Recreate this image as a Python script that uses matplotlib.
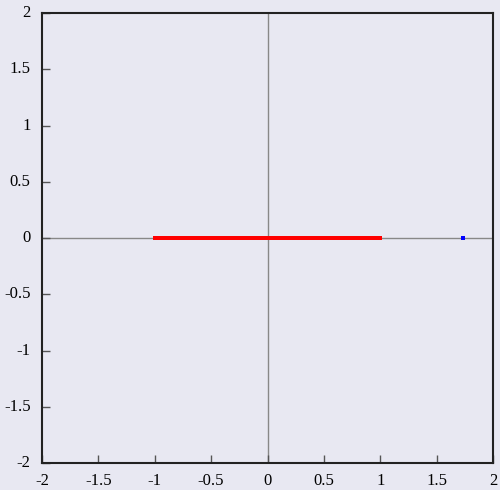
import matplotlib
matplotlib.use('Agg')
import matplotlib.pyplot as plt

serif = 'Liberation Serif'

# roots on the real axis (positive half, mirrored below)
red_pos = [1.000, 0.999, 0.997, 0.995, 0.992, 0.988, 0.983, 0.977, 0.971, 0.963,
           0.955, 0.947, 0.937, 0.927, 0.915, 0.904, 0.891, 0.878, 0.864, 0.849,
           0.833, 0.817, 0.800, 0.783, 0.765, 0.746, 0.727, 0.707, 0.687, 0.665,
           0.644, 0.622, 0.599, 0.576, 0.553, 0.528, 0.504, 0.479, 0.454, 0.428,
           0.402, 0.376, 0.349, 0.323, 0.295, 0.268, 0.240, 0.213, 0.185, 0.156,
           0.128, 0.100, 0.071, 0.043, 0.014]
blue_pos = [1.000, 0.998, 0.996, 0.994, 0.990, 0.986, 0.980, 0.974, 0.967, 0.959,
            0.951, 0.942, 0.932, 0.921, 0.910, 0.898, 0.885, 0.871, 0.857, 0.841,
            0.825, 0.809, 0.792, 0.774, 0.756, 0.737, 0.717, 0.697, 0.676, 0.655,
            0.633, 0.611, 0.588, 0.565, 0.541, 0.516, 0.492, 0.467, 0.441, 0.415,
            0.389, 0.363, 0.336, 0.309, 0.282, 0.254, 0.227, 0.199, 0.171, 0.142,
            0.114, 0.086, 0.057, 0.029, 0.000]
blue_extra = [1.732]

red_x = red_pos + [-v for v in red_pos]
blue_x = blue_pos + [-v for v in blue_pos]

ticks = [-2, -1.5, -1, -0.5, 0, 0.5, 1, 1.5, 2]
tick_labels = ['-2', '-1.5', '-1', '-0.5', '0', '0.5', '1', '1.5', '2']

bg = '#e8e8f2'
fig = plt.figure(figsize=(5, 4.9), dpi=100, facecolor=bg)
ax = fig.add_axes([0.084, 0.055, 0.902, 0.9185], facecolor=bg)

ax.axhline(0, color='#888888', lw=1, zorder=1)
ax.axvline(0, color='#888888', lw=1, zorder=1)

ax.plot(blue_x, [0] * len(blue_x), 's', color='#5050ff', ms=2.0, mew=0, zorder=2)
ax.plot(blue_extra, [0], 's', color='blue', ms=2.2, mew=0, zorder=2)
ax.plot(red_x, [0] * len(red_x), 's', color='red', ms=2.2, mew=0, zorder=3)

ax.set_xlim(-2, 2)
ax.set_ylim(-2, 2)
ax.set_xticks(ticks)
ax.set_yticks(ticks)
ax.tick_params(direction='in', length=6, width=1, color='#555555',
               labelbottom=False, labelleft=False)

# tick labels in a Times-like face
for t, lab in zip(ticks, tick_labels):
    ax.text(t, -0.022, lab, transform=ax.get_xaxis_transform(),
            ha='center', va='top', family=serif, fontsize=12)
    ax.text(-0.025, t, lab, transform=ax.get_yaxis_transform(),
            ha='right', va='center', family=serif, fontsize=12)

for s in ax.spines.values():
    s.set_linewidth(1.5)
    s.set_color('#222222')

fig.savefig('out.png', dpi=100, facecolor=bg)
